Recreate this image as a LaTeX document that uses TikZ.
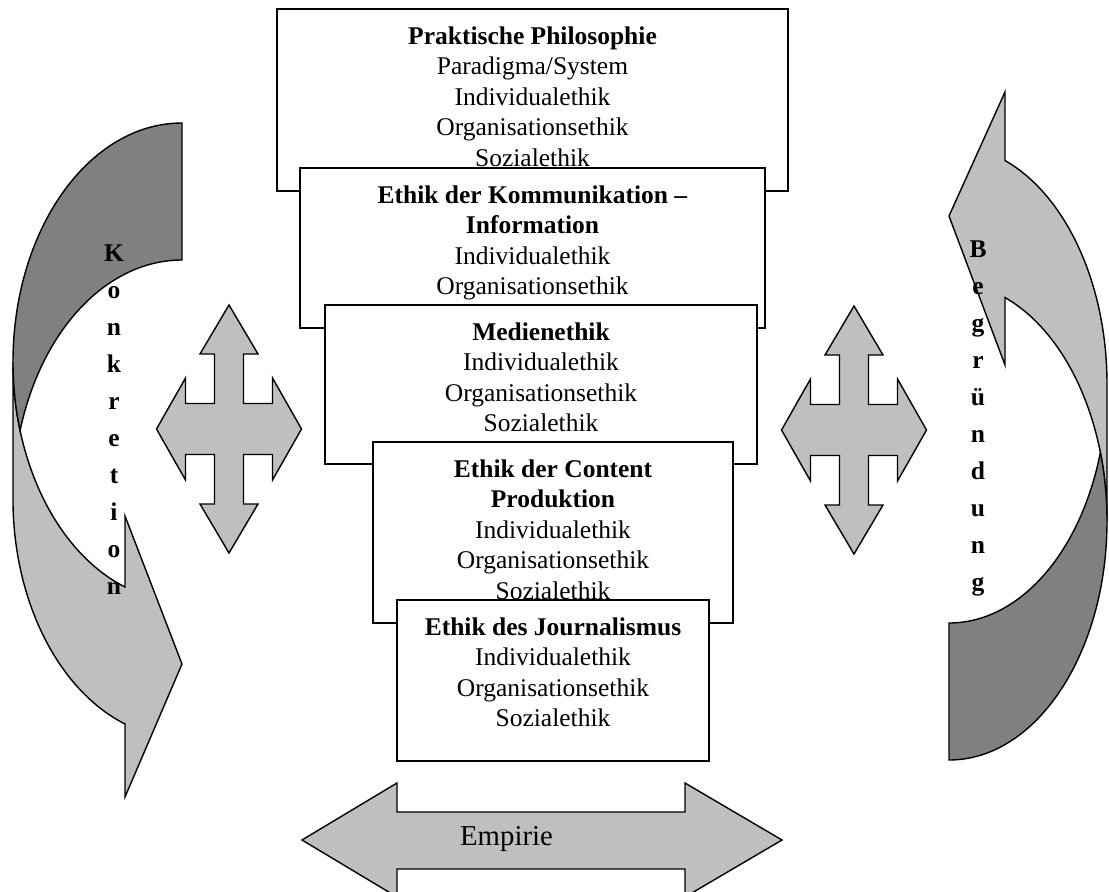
\documentclass[tikz,border=0pt]{standalone}
\usepackage{xcolor}
\usepackage{fontspec}
\setmainfont{Liberation Serif}
\usetikzlibrary{positioning}

\begin{document}
\begin{tikzpicture}[x=1pt,y=-1pt,
  ebox/.style={draw=cline,fill=cbox,line width=1.5pt,anchor=north west,inner sep=0pt,outer sep=0pt},
  etext/.style={align=center,inner sep=0pt,outer sep=0pt,text=ctext,font=\fontsize{25.5}{30.5}\selectfont},
  vletter/.style={anchor=base,inner sep=0pt,text=ctext,font=\fontsize{25.5}{30.5}\selectfont\bfseries},
  shp/.style={draw=cline,line width=1.4pt,line join=miter},
  quadarrow/.pic={
    \filldraw[shp,fill=cfront] (0,-124) -- (29,-75) -- (14.5,-75) -- (14.5,-25.5) -- (43.5,-25.5)
      -- (43.5,-51) -- (72.5,0) -- (43.5,51) -- (43.5,25.5) -- (14.5,25.5) -- (14.5,75) -- (29,75)
      -- (0,124) -- (-29,75) -- (-14.5,75) -- (-14.5,25.5) -- (-43.5,25.5) -- (-43.5,51) -- (-72.5,0)
      -- (-43.5,-51) -- (-43.5,-25.5) -- (-14.5,-25.5) -- (-14.5,-75) -- (-29,-75) -- cycle;
  }]
\definecolor{cline}{rgb}{0.0,0.0,0.0}
\definecolor{ctext}{rgb}{0.0,0.0,0.0}
\definecolor{cbox}{rgb}{1.0,1.0,1.0}
\definecolor{cfront}{rgb}{0.75,0.75,0.75}
\definecolor{cback}{rgb}{0.5,0.5,0.5}
\useasboundingbox (0,0) rectangle (1109,892);
%
% Konkretion
\filldraw[shp,fill=cfront] (13,362) arc[start angle=180, end angle=109.7, x radius=169, y radius=239]
  -- (125,516) -- (182,664) -- (125,797) -- (125,724)
  arc[start angle=109.7, end angle=180, x radius=169, y radius=239] -- cycle;
\filldraw[shp,fill=cback] (13,362) arc[start angle=180, end angle=270, x radius=169, y radius=239]
  -- (182,260) arc[start angle=270, end angle=196.65, x radius=169, y radius=239]
  arc[start angle=163.35, end angle=180, x radius=169, y radius=239] -- cycle;
\foreach \ch [count=\i from 0] in {K,o,n,k,r,e,t,i,o,n}
  \node[vletter] (kon\i) at (114,{261+37*\i}) {\ch};
%
% Begruendung
\filldraw[shp,fill=cfront] (1107,521) arc[start angle=0, end angle=-69.24, x radius=158, y radius=239]
  -- (1005,365) -- (949,216) -- (1005,92) -- (1005,160.5)
  arc[start angle=-69.24, end angle=0, x radius=158, y radius=239] -- cycle;
\filldraw[shp,fill=cback] (1107,521) arc[start angle=0, end angle=90, x radius=158, y radius=239]
  -- (949,623) arc[start angle=90, end angle=16.65, x radius=158, y radius=239]
  arc[start angle=-16.65, end angle=0, x radius=158, y radius=239] -- cycle;
\foreach \ch [count=\i from 0] in {B,e,g,r,ü,n,d,u,n,g}
  \node[vletter] (beg\i) at (978,{257+37*\i}) {\ch};
%
\pic (crossL) at (229,429) {quadarrow};
\pic (crossR) at (854,430) {quadarrow};
%
\node[ebox, minimum width=511, minimum height=182] (phil) at (277,9) {};
\node[etext, below=17.7pt of phil.north] (philtext)
  {\textbf{Praktische Philosophie}\\Paradigma/System\\Individualethik\\Organisationsethik\\Sozialethik};
\node[ebox, minimum width=465, minimum height=160] (komm) at (300,168) {};
\node[etext, below=17.7pt of komm.north] (kommtext)
  {\textbf{Ethik der Kommunikation –}\\\textbf{Information}\\Individualethik\\Organisationsethik};
\node[ebox, minimum width=432, minimum height=159] (medien) at (325,305) {};
\node[etext, below=17.7pt of medien.north] (medientext)
  {\textbf{Medienethik}\\Individualethik\\Organisationsethik\\Sozialethik};
\node[ebox, minimum width=360, minimum height=181] (content) at (373,442) {};
\node[etext, below=17.7pt of content.north] (contenttext)
  {\textbf{Ethik der Content}\\\textbf{Produktion}\\Individualethik\\Organisationsethik\\Sozialethik};
\node[ebox, minimum width=312, minimum height=161] (journ) at (397,600) {};
\node[etext, below=17.7pt of journ.north] (journtext)
  {\textbf{Ethik des Journalismus}\\Individualethik\\Organisationsethik\\Sozialethik};
%
% Empirie
\filldraw[shp,fill=cfront] (302,840) -- (397,783) -- (397,812) -- (685,812) -- (685,783) -- (782,840)
  -- (685,897) -- (685,869) -- (397,869) -- (397,897) -- cycle;
\node[etext, anchor=base, font=\fontsize{28.8}{34}\selectfont] (empirie) at (506.5,845) {Empirie};
%
\end{tikzpicture}
\end{document}
